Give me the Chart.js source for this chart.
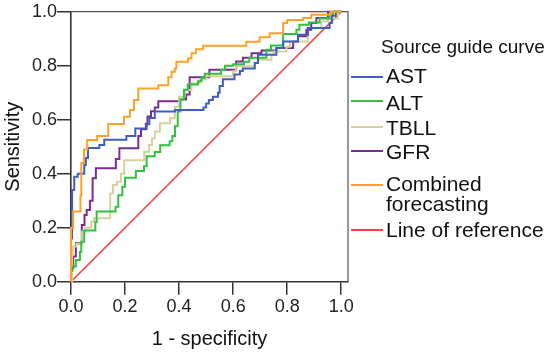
<!DOCTYPE html>
<html><head><meta charset="utf-8">
<script src="https://cdn.jsdelivr.net/npm/chart.js@4.4.1/dist/chart.umd.min.js"></script>
<style>
html,body{margin:0;padding:0;background:#fff;}
#wrap{position:relative;width:550px;height:355px;overflow:hidden;}
canvas{position:absolute;left:0;top:0;}
.lg{position:absolute;font-family:"Liberation Sans",Arial,sans-serif;color:#111;white-space:nowrap;}
.sw{position:absolute;height:2px;}
</style></head><body>
<div id="wrap"><canvas id="c" width="550" height="355"></canvas></div>
<script>
// ---- data ----
const seriesNames = ['AST', 'ALT', 'TBLL', 'GFR', 'Combined forecasting', 'Line of reference'];
const legendTitle = 'Source guide curve';
const xTitle = '1 - specificity';
const yTitle = 'Sensitivity';
const xTicks = [0, 0.2, 0.4, 0.6, 0.8, 1.0];
const yTicks = [0, 0.2, 0.4, 0.6, 0.8, 1.0];

const astX = [0, 0, 0.004, 0.012, 0.025, 0.049, 0.055, 0.063, 0.105, 0.123, 0.205, 0.238, 0.28, 0.29, 0.31, 0.385, 0.49, 0.50, 0.51, 0.525, 0.544, 0.55, 0.562, 0.605, 0.625, 0.636, 0.68, 0.692, 0.76, 0.785, 0.84, 0.877, 0.957, 0.965, 0.98, 1.0];
const astY = [0, 0.16, 0.34, 0.389, 0.40, 0.432, 0.458, 0.495, 0.506, 0.526, 0.54, 0.567, 0.583, 0.606, 0.63, 0.636, 0.645, 0.66, 0.673, 0.685, 0.70, 0.725, 0.75, 0.767, 0.78, 0.79, 0.81, 0.841, 0.866, 0.89, 0.915, 0.94, 0.958, 0.985, 1.0, 1.0];

const altX = [0, 0, 0.005, 0.018, 0.033, 0.038, 0.049, 0.09, 0.095, 0.165, 0.175, 0.19, 0.20, 0.24, 0.27, 0.28, 0.31, 0.33, 0.365, 0.375, 0.385, 0.395, 0.405, 0.418, 0.432, 0.47, 0.483, 0.495, 0.555, 0.57, 0.60, 0.64, 0.66, 0.723, 0.74, 0.785, 0.834, 0.845, 0.88, 0.92, 0.957, 0.97, 1.0];
const altY = [0, 0.04, 0.056, 0.08, 0.11, 0.148, 0.19, 0.22, 0.26, 0.278, 0.32, 0.352, 0.385, 0.41, 0.428, 0.465, 0.48, 0.505, 0.52, 0.54, 0.576, 0.63, 0.675, 0.711, 0.73, 0.742, 0.755, 0.77, 0.785, 0.80, 0.805, 0.815, 0.829, 0.859, 0.875, 0.917, 0.933, 0.952, 0.96, 0.975, 0.989, 1.0, 1.0];

const tbllX = [0, 0.004, 0.007, 0.02, 0.04, 0.053, 0.075, 0.085, 0.145, 0.155, 0.17, 0.185, 0.197, 0.271, 0.289, 0.30, 0.31, 0.329, 0.366, 0.384, 0.40, 0.421, 0.446, 0.476, 0.50, 0.599, 0.61, 0.68, 0.69, 0.742, 0.75, 0.797, 0.81, 0.877, 0.926, 0.95, 0.988, 1.0];
const tbllY = [0, 0.10, 0.13, 0.14, 0.185, 0.20, 0.222, 0.235, 0.327, 0.358, 0.37, 0.40, 0.45, 0.481, 0.506, 0.53, 0.556, 0.587, 0.605, 0.648, 0.685, 0.71, 0.735, 0.75, 0.761, 0.779, 0.798, 0.81, 0.822, 0.841, 0.853, 0.87, 0.89, 0.94, 0.964, 0.975, 1.0, 1.0];

const gfrX = [0, 0.002, 0.008, 0.018, 0.04, 0.05, 0.058, 0.07, 0.08, 0.092, 0.166, 0.179, 0.249, 0.259, 0.277, 0.283, 0.296, 0.31, 0.323, 0.40, 0.426, 0.439, 0.512, 0.611, 0.636, 0.668, 0.705, 0.76, 0.822, 0.84, 0.871, 0.889, 0.908, 0.951, 1.0];
const gfrY = [0, 0.05, 0.093, 0.142, 0.21, 0.247, 0.266, 0.30, 0.383, 0.42, 0.454, 0.494, 0.54, 0.565, 0.585, 0.612, 0.631, 0.645, 0.668, 0.675, 0.693, 0.757, 0.785, 0.816, 0.829, 0.846, 0.856, 0.866, 0.89, 0.909, 0.933, 0.958, 0.977, 1.0, 1.0];

const combX = [0, 0, 0.008, 0.035, 0.038, 0.048, 0.06, 0.097, 0.138, 0.196, 0.218, 0.233, 0.249, 0.323, 0.36, 0.372, 0.384, 0.39, 0.433, 0.446, 0.462, 0.489, 0.649, 0.698, 0.735, 0.785, 0.80, 0.858, 0.889, 0.96, 1.0];
const combY = [0, 0.20, 0.26, 0.32, 0.44, 0.49, 0.525, 0.54, 0.584, 0.611, 0.636, 0.673, 0.716, 0.728, 0.757, 0.778, 0.79, 0.815, 0.827, 0.846, 0.861, 0.874, 0.889, 0.905, 0.92, 0.958, 0.969, 0.977, 0.989, 1.0, 1.0];

const refX = [0, 1];
const refY = [0, 1];

// ---- styles ----
const FONT = '"Liberation Sans", Arial, sans-serif';
const colors = ['#3d5fbf', '#2fc23c', '#d6d09c', '#7b2d8f', '#ffa126', '#ff3b3b'];

const zip = (xs, ys) => xs.slice(0, Math.min(xs.length, ys.length)).map((x, i) => ({x, y: ys[i]}));
const allX = [astX, altX, tbllX, gfrX, combX, refX];
const allY = [astY, altY, tbllY, gfrY, combY, refY];

const datasets = seriesNames.map((name, i) => ({
  label: name,
  data: zip(allX[i], allY[i]),
  borderColor: colors[i],
  backgroundColor: colors[i],
  borderWidth: i === 5 ? 1.6 : 2,
  pointRadius: 0,
  fill: false,
  tension: 0,
  stepped: i === 5 ? false : 'before',
  clip: 3,
  order: i === 5 ? 10 : (i === 4 ? 0 : i + 1)
}));

const framePlugin = {
  id: 'frame',
  beforeDatasetsDraw(chart) {
    const {ctx, chartArea: a} = chart;
    ctx.save();
    ctx.strokeStyle = '#555';
    ctx.lineWidth = 1.2;
    ctx.beginPath();
    ctx.moveTo(a.left, a.top);
    ctx.lineTo(a.right, a.top);
    ctx.lineTo(a.right, a.bottom);
    ctx.stroke();
    ctx.restore();
  }
};

new Chart(document.getElementById('c'), {
  type: 'line',
  data: { datasets },
  plugins: [framePlugin],
  options: {
    responsive: false,
    animation: false,
    layout: { padding: { left: 0, top: 11.7, right: 202, bottom: 0 } },
    plugins: { legend: { display: false }, tooltip: { enabled: false } },
    scales: {
      x: {
        type: 'linear', min: 0, max: 1.025,
        afterBuildTicks: s => { s.ticks = xTicks.map(v => ({value: v})); },
        afterFit: s => { s.height = 73.3; },
        ticks: { callback: v => Number(v).toFixed(1), font: {size: 18, family: FONT}, color: '#222', padding: 2, maxRotation: 0, autoSkip: false },
        grid: { drawOnChartArea: false, drawTicks: true, tickLength: 13, color: '#333', lineWidth: 1.5 },
        border: { display: true, color: '#333', width: 1.6 },
        title: { display: true, text: xTitle, font: {size: 20, family: FONT}, color: '#111', padding: {top: 0, bottom: 4} }
      },
      y: {
        type: 'linear', min: 0, max: 1,
        afterBuildTicks: s => { s.ticks = yTicks.map(v => ({value: v})); },
        afterFit: s => { s.width = 71; },
        ticks: { callback: v => Number(v).toFixed(1), font: {size: 18, family: FONT}, color: '#222', padding: 0, autoSkip: false },
        grid: { drawOnChartArea: false, drawTicks: true, tickLength: 14, color: '#333', lineWidth: 1.5 },
        border: { display: true, color: '#333', width: 1.6 },
        title: { display: true, text: yTitle, font: {size: 20, family: FONT}, color: '#111', padding: {top: 1, bottom: 0} }
      }
    }
  }
});

// ---- HTML legend ----
const wrap = document.getElementById('wrap');
const t = document.createElement('div');
t.className = 'lg';
t.style.cssText = 'left:381px;top:37px;font-size:19px;line-height:19px;';
t.textContent = legendTitle;
wrap.appendChild(t);
const textTops = [64.5, 91.5, 117, 140.5, 174, 218.5];
const swatchY = [77.3, 101, 126.7, 150.7, 185, 230];
seriesNames.forEach((name, i) => {
  const sw = document.createElement('div');
  sw.className = 'sw';
  sw.style.cssText = `left:351px;width:32px;top:${swatchY[i] - 1}px;background:${colors[i]};`;
  wrap.appendChild(sw);
  const d = document.createElement('div');
  d.className = 'lg';
  const parts = name === 'Combined forecasting' ? ['Combined', 'forecasting'] : [name];
  d.style.cssText = `left:386px;top:${textTops[i]}px;font-size:21px;line-height:${parts.length > 1 ? 20 : 21}px;`;
  parts.forEach((p, k) => { if (k) d.appendChild(document.createElement('br')); d.appendChild(document.createTextNode(p)); });
  wrap.appendChild(d);
});
</script>
</body></html>
